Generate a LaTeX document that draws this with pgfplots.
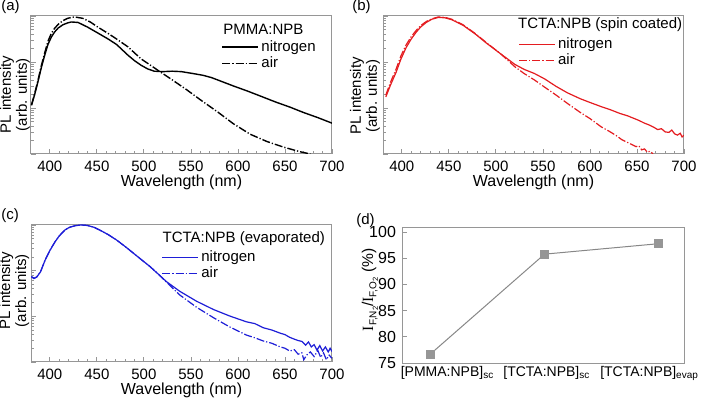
\documentclass[border=0pt]{standalone}
\usepackage{fontspec}
\setmainfont{Liberation Sans}
\newfontfamily\serifI{Liberation Serif}
\usepackage{pgfplots}
\pgfplotsset{compat=1.18}
\usepackage{pgfplotstable}

\definecolor{framegray}{RGB}{150,150,150}
\definecolor{myred}{RGB}{228,28,32}
\definecolor{myblue}{RGB}{30,30,215}
\definecolor{markgray}{RGB}{150,150,150}

\pgfplotstableread{
x y
380.5 11.5
384 19.95
387.4 37.2
391 75.9
394.6 141
398 240
401.6 347
405 447
409 550
414 646
419 708
423 741
430 724
440 575
451 427
462 316
471 240
483 141
490 107
497 85.1
504 70.8
511 63.1
520 61.7
530 63.1
540 61.7
552 56.2
563 51.3
572 45.7
581 38.9
595 30.2
610 23.4
625 17.8
640 13.5
655 10.5
670 7.94
685 6.17
700 4.68
}\aNitro

\pgfplotstableread{
x y
380.5 11.5
384 20.9
387.4 39.8
391 83.2
394.6 158
398 282
401.6 417
405 537
409 661
414 794
419 891
426 955
435 891
443 741
451 575
462 417
471 316
483 214
490 158
497 117
507 85.1
517 61.7
531 39.8
546 24.5
560 15.1
578 8.32
595 4.57
613 2.69
631 1.86
649 1.40
666 1.12
677 1.0
}\aAir

\pgfplotstableread{
x y
383 17.4
388 31.6
394 60.3
399 115
404.5 204
410 316
415 437
420 575
426 724
432 851
439 933
446 912
453 832
465 631
478 407
490 257
505 151
520 89.1
530 69.2
541 56.2
552 42.7
564 29.5
576 21.4
590 15.8
600 13.2
612 10.7
622 9.12
632 7.59
640 6.76
646 6.03
652 5.37
658 4.68
663 4.27
668 3.80
672 3.39
676 3.55
680 3.02
684 2.95
687 3.31
690 2.75
693 2.57
696 2.82
698 2.34
700 2.57
}\bNitro

\pgfplotstableread{
x y
383 19.1
388 36.3
394 70.8
399 135
404.5 234
410 355
415 479
420 617
426 759
432 871
439 955
446 933
453 851
465 646
478 417
490 263
505 151
520 79.4
530 56.2
541 40.7
552 28.2
564 19.1
576 12.6
590 7.94
600 5.89
612 3.89
620 3.16
628 2.51
634 2.04
640 1.78
645 1.585
649 1.445
652 1.51
655 1.23
658 1.29
661 1.096
664 1.148
667 1.0
}\bAir

\pgfplotstableread{
x y
380.5 74.1
383 67.6
386 72.4
390 93.3
395 170
400 275
405.5 427
410 575
416 776
421 891
427 966
433 1000
440 977
447 891
453 776
462 617
471 468
480 339
489 240
498 170
506.5 123
515 85.1
524 57.5
538 35.5
556 21.4
574 14.1
591 10.2
609 7.59
618 6.92
627 5.62
636 5.01
645 4.27
650 3.98
655 3.47
660 3.16
664 2.95
668 2.82
672 2.34
675 2.75
678 2.14
681 2.40
684 1.82
687 2.29
690 1.74
693 2.14
696 1.66
698 2.0
700 1.70
}\cNitro

\pgfplotstableread{
x y
380.5 74.1
383 67.6
386 72.4
390 93.3
395 170
400 275
405.5 427
410 575
416 776
421 891
427 966
433 1000
440 977
447 891
453 776
462 617
471 468
480 339
489 240
498 170
506.5 123
515 85.1
524 56.2
538 29.5
556 15.8
574 9.33
591 5.89
609 3.89
618 3.39
627 2.88
636 2.57
645 2.14
650 2.0
655 1.74
660 1.86
664 1.48
668 1.585
670 1.122
673 1.413
677 1.66
681 1.318
685 1.778
688 1.259
691 1.585
694 1.122
697 1.413
700 1.202
}\cAir

\pgfplotsset{
  plspec/.style={
    scale only axis, width=150.5pt,
    xmin=380, xmax=700, ymin=1, ymax=1000,
    xtick={400,450,...,700}, minor x tick num=4,
    ytick={1,10,100,1000},
    minor ytick={2,3,4,5,6,7,8,9,20,30,40,50,60,70,80,90,200,300,400,500,600,700,800,900},
    yticklabels={},
    tick align=inside, xtick pos=bottom, ytick pos=left,
    axis line style={framegray, line width=0.5pt},
    every tick/.style={framegray, line width=0.4pt},
    major tick length=2.5pt, minor tick length=1.3pt,
    /pgf/number format/assume math mode=true,
    tick label style={font=\fontsize{7.5}{8}\selectfont},
    xlabel={Wavelength (nm)},
    xlabel style={font=\fontsize{8}{9}\selectfont, at={(axis description cs:0.5,0)}, anchor=center, yshift=-14pt},
    ylabel={PL intensity\\(arb. units)},
    ylabel style={font=\fontsize{7.5}{8}\selectfont, align=center, anchor=center},
    legend cell align=left,
    legend image code/.code={\draw[##1] (0pt,0pt) -- (15pt,0pt); \path (0pt,0pt) -- (18pt,0pt);},
    legend style={draw=none, fill=none, anchor=north west, inner sep=0pt,
      font=\fontsize{7.5}{8}\selectfont, row sep=-1.1pt,
      nodes={inner sep=1.2pt}},
  },
}
\tikzset{airdash/.style={dash pattern=on 4pt off 1pt on 0.6pt off 1pt}}

\begin{document}
\begin{tikzpicture}
\useasboundingbox (0,0) rectangle (351.5pt,200pt);

% (a)
\begin{axis}[ymode=log, plspec, at={(15.5pt,123pt)}, anchor=south west, height=69pt,
  ylabel style={at={(axis description cs:-0.053,0.43)}},
  legend style={at={(axis description cs:0.632,0.845)}}]
\addplot[black, line width=0.7pt] table[x=x,y=y] {\aNitro};
\addlegendentry{nitrogen}
\addplot[black, line width=0.7pt, airdash] table[x=x,y=y] {\aAir};
\addlegendentry{air}
\node[anchor=west, font=\fontsize{7.5}{8}\selectfont, inner sep=0pt] at (axis description cs:0.638,0.906) {PMMA:NPB};
\end{axis}

% (b)
\begin{axis}[ymode=log, plspec, at={(191.5pt,123pt)}, anchor=south west, height=69pt,
  ylabel style={at={(axis description cs:-0.06,0.42)}},
  legend style={at={(axis description cs:0.449,0.865)}}]
\addplot[myred, line width=0.6pt] table[x=x,y=y] {\bNitro};
\addlegendentry{nitrogen}
\addplot[myred, line width=0.6pt, airdash] table[x=x,y=y] {\bAir};
\addlegendentry{air}
\node[anchor=west, font=\fontsize{7.5}{8}\selectfont, inner sep=0pt] at (axis description cs:0.448,0.935) {TCTA:NPB (spin coated)};
\end{axis}

% (c)
\begin{axis}[ymode=log, plspec, at={(15.5pt,19pt)}, anchor=south west, height=68.5pt,
  ylabel style={at={(axis description cs:-0.056,0.52)}},
  legend style={at={(axis description cs:0.433,0.835)}}]
\addplot[myblue, line width=0.6pt] table[x=x,y=y] {\cNitro};
\addlegendentry{nitrogen}
\addplot[myblue, line width=0.6pt, airdash] table[x=x,y=y] {\cAir};
\addlegendentry{air}
\node[anchor=west, font=\fontsize{7.5}{8}\selectfont, inner sep=0pt] at (axis description cs:0.436,0.898) {TCTA:NPB (evaporated)};
\end{axis}

% (d)
\begin{axis}[scale only axis, at={(201.5pt,18pt)}, anchor=south west,
  width=141pt, height=68pt,
  xmin=-0.24, xmax=2.23, ymin=74.8, ymax=100.8,
  xtick={0.15,1.02,1.92},
  xticklabels={{[PMMA:NPB]\textsubscript{sc}},{[TCTA:NPB]\textsubscript{sc}},{[TCTA:NPB]\textsubscript{evap}}},
  ytick={75,80,...,100},
  tick align=inside, xtick pos=bottom, ytick pos=left,
  xtick style={draw=none},
  axis line style={framegray, line width=0.5pt},
  every tick/.style={framegray, line width=0.4pt},
  major tick length=2pt,
  /pgf/number format/assume math mode=true,
  xticklabel style={font=\fontsize{7}{8}\selectfont, yshift=2.5pt},
  yticklabel style={font=\fontsize{8}{9}\selectfont},
  ylabel={{\serifI I}\raisebox{-1.6pt}{\fontsize{5}{5.5}\selectfont F,N\raisebox{-0.9pt}{\fontsize{3.8}{4}\selectfont 2}}/{\serifI I}\raisebox{-1.6pt}{\fontsize{5}{5.5}\selectfont F,O\raisebox{-0.9pt}{\fontsize{3.8}{4}\selectfont 2}} (\%)},
  ylabel style={font=\fontsize{7.8}{8.5}\selectfont, at={(axis description cs:-0.117,0.545)}, anchor=center},
]
\addplot[markgray!90!black, line width=0.5pt, mark=square*, mark size=2pt,
  mark options={fill=markgray, draw=markgray}] coordinates {(0,76.7) (1,95.8) (2,97.8)};
\end{axis}

\node[anchor=west, font=\fontsize{7.5}{8}\selectfont, inner sep=0pt] at (0.5pt,196.5pt) {(a)};
\node[anchor=west, font=\fontsize{7.5}{8}\selectfont, inner sep=0pt] at (176pt,196.5pt) {(b)};
\node[anchor=west, font=\fontsize{7.5}{8}\selectfont, inner sep=0pt] at (0.5pt,92pt) {(c)};
\node[anchor=west, font=\fontsize{7.5}{8}\selectfont, inner sep=0pt] at (178pt,89.5pt) {(d)};
\end{tikzpicture}
\end{document}
